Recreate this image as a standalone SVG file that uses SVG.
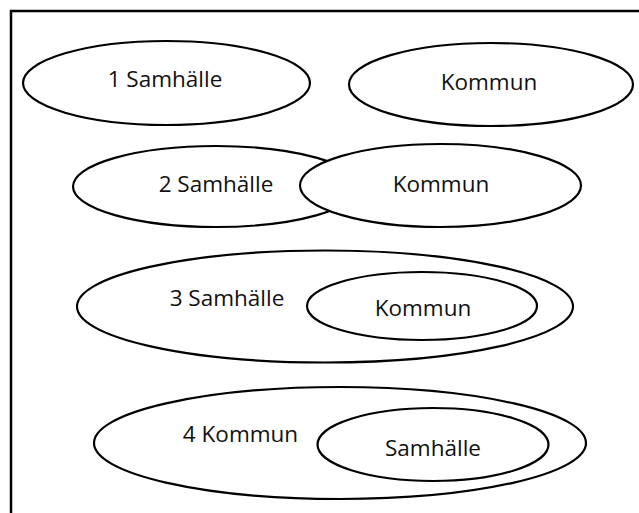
<svg xmlns="http://www.w3.org/2000/svg" width="639" height="513" viewBox="0 0 639 513">
  <style>
    .shape { fill: #ffffff; stroke: #000000; stroke-width: 2.2; }
    .label { font-family: "Open Sans", "Liberation Sans", sans-serif; font-size: 22.5px; fill: #111111; text-anchor: middle; }
    .frame { fill: none; stroke: #000000; stroke-width: 2.5; }
  </style>
  <rect x="0" y="0" width="639" height="513" fill="#ffffff"/>

  <!-- open frame: top and left edges only -->
  <path class="frame" d="M11 513 V11 H639"/>

  <!-- row 1: separate -->
  <g id="row1-samhalle">
    <ellipse class="shape" cx="166.5" cy="83" rx="143.5" ry="42"/>
    <text class="label" x="165" y="87">1 Samhälle</text>
  </g>
  <g id="row1-kommun">
    <ellipse class="shape" cx="491" cy="84.5" rx="142" ry="41.5"/>
    <text class="label" x="489" y="90">Kommun</text>
  </g>

  <!-- row 2: overlapping -->
  <g id="row2-samhalle">
    <ellipse class="shape" cx="216" cy="186.5" rx="143" ry="40.5"/>
    <text class="label" x="216" y="192">2 Samhälle</text>
  </g>
  <g id="row2-kommun">
    <ellipse class="shape" cx="440.5" cy="185.5" rx="140.5" ry="41.5"/>
    <text class="label" x="441" y="192">Kommun</text>
  </g>

  <!-- row 3: Kommun inside Samhälle -->
  <g id="row3-samhalle">
    <ellipse class="shape" cx="325" cy="306.5" rx="248" ry="56"/>
    <text class="label" x="227" y="306">3 Samhälle</text>
  </g>
  <g id="row3-kommun">
    <ellipse class="shape" cx="422" cy="306" rx="115" ry="34"/>
    <text class="label" x="423" y="316">Kommun</text>
  </g>

  <!-- row 4: Samhälle inside Kommun -->
  <g id="row4-kommun">
    <ellipse class="shape" cx="340" cy="443" rx="246" ry="56"/>
    <text class="label" x="240.5" y="442">4 Kommun</text>
  </g>
  <g id="row4-samhalle">
    <ellipse class="shape" cx="433" cy="444.5" rx="115.5" ry="36.5"/>
    <text class="label" x="433" y="456">Samhälle</text>
  </g>
</svg>
